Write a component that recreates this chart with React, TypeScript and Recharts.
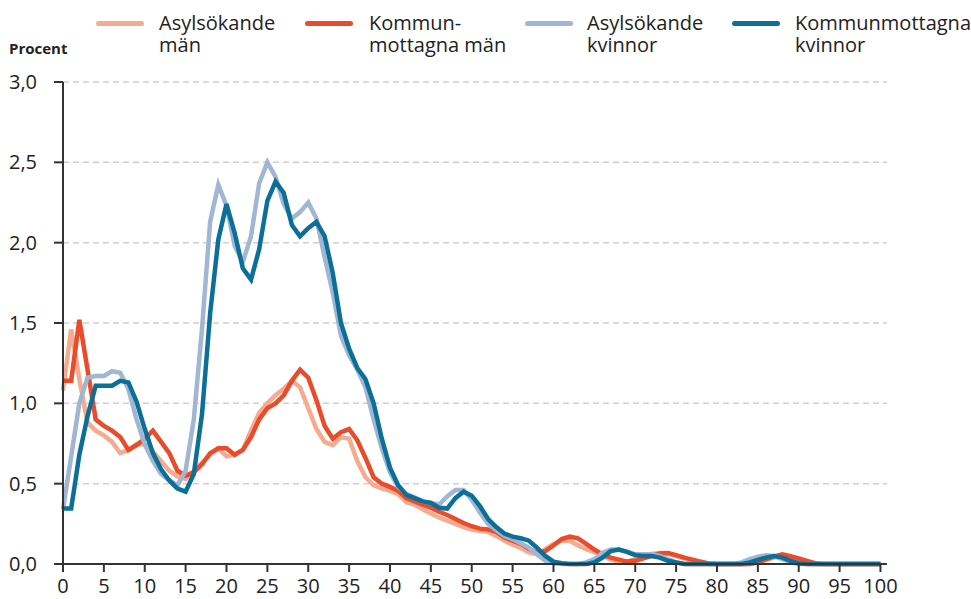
import React from 'react';
import { LineChart, Line, XAxis, YAxis, CartesianGrid } from 'recharts';

// ålder 0-100, andel i procent
const ages = Array.from({ length: 101 }, (_, i) => i);

const asylMan = [
    1.08, 1.46, 1.15, 0.88, 0.83, 0.8, 0.76, 0.69, 0.71, 0.745,
    0.745, 0.7, 0.64, 0.58, 0.545, 0.53, 0.58, 0.63, 0.68, 0.72,
    0.67, 0.68, 0.71, 0.83, 0.94, 1.0, 1.05, 1.09, 1.14, 1.1,
    0.97, 0.84, 0.76, 0.74, 0.79, 0.78, 0.64, 0.54, 0.49, 0.47,
    0.455, 0.435, 0.385, 0.37, 0.34, 0.315, 0.29, 0.27, 0.25, 0.23,
    0.215, 0.207, 0.2, 0.175, 0.145, 0.12, 0.1, 0.073, 0.062, 0.093,
    0.124, 0.145, 0.145, 0.115, 0.093, 0.073, 0.052, 0.027, 0.015, 0.015,
    0.03, 0.048, 0.062, 0.068, 0.065, 0.05, 0.035, 0.02, 0.01, 0,
    0, 0, 0, 0, 0, 0.01, 0.025, 0.04, 0.05, 0.04,
    0.03, 0.015, 0, 0, 0, 0, 0, 0, 0, 0,
    0,
];

const kommunMan = [
    1.14, 1.14, 1.52, 1.21, 0.9, 0.86, 0.83, 0.79, 0.71, 0.74,
    0.78, 0.83, 0.76, 0.69, 0.58, 0.55, 0.57, 0.62, 0.69, 0.72,
    0.72, 0.68, 0.71, 0.79, 0.9, 0.97, 1.0, 1.05, 1.14, 1.21,
    1.16, 1.02, 0.86, 0.78, 0.82, 0.84, 0.77, 0.66, 0.54, 0.5,
    0.48, 0.455, 0.41, 0.39, 0.37, 0.35, 0.325, 0.305, 0.28, 0.255,
    0.235, 0.22, 0.215, 0.2, 0.165, 0.145, 0.125, 0.095, 0.07, 0.08,
    0.115, 0.155, 0.17, 0.16, 0.125, 0.09, 0.06, 0.04, 0.027, 0.015,
    0.02, 0.035, 0.05, 0.065, 0.068, 0.055, 0.04, 0.027, 0.015, 0.003,
    0, 0, 0, 0, 0, 0.01, 0.03, 0.048, 0.06, 0.048,
    0.035, 0.02, 0.005, 0, 0, 0, 0, 0, 0, 0,
    0,
];

const asylKvinnor = [
    0.34, 0.67, 1.0, 1.16, 1.17, 1.17, 1.2, 1.19, 1.09, 0.9,
    0.745, 0.64, 0.56, 0.52, 0.49, 0.58, 0.9, 1.46, 2.13, 2.36,
    2.23, 1.98, 1.88, 2.04, 2.37, 2.5, 2.41, 2.24, 2.15, 2.19,
    2.25, 2.15, 1.91, 1.69, 1.42, 1.3, 1.21, 1.1, 0.9, 0.72,
    0.57, 0.48, 0.435, 0.415, 0.39, 0.38, 0.37, 0.42, 0.46, 0.46,
    0.4, 0.32, 0.25, 0.21, 0.175, 0.155, 0.13, 0.1, 0.06, 0.02,
    0.005, 0, 0, 0, 0.01, 0.03, 0.07, 0.09, 0.09, 0.077,
    0.06, 0.06, 0.06, 0.05, 0.03, 0.01, 0, 0, 0, 0,
    0, 0, 0, 0.01, 0.03, 0.045, 0.055, 0.05, 0.03, 0.01,
    0, 0, 0, 0, 0, 0, 0, 0, 0, 0,
    0,
];

const kommunKvinnor = [
    0.345, 0.345, 0.68, 0.92, 1.11, 1.11, 1.11, 1.14, 1.13, 1.01,
    0.84, 0.69, 0.59, 0.52, 0.47, 0.45, 0.56, 0.93, 1.56, 2.02,
    2.24, 2.06, 1.84, 1.77, 1.96, 2.26, 2.38, 2.31, 2.11, 2.04,
    2.09, 2.13, 2.04, 1.81, 1.5, 1.34, 1.22, 1.15, 1.0, 0.78,
    0.6, 0.49, 0.43, 0.41, 0.39, 0.38, 0.35, 0.345, 0.41, 0.45,
    0.425, 0.36, 0.28, 0.23, 0.19, 0.17, 0.16, 0.145, 0.1, 0.05,
    0.015, 0.005, 0, 0, 0, 0.01, 0.04, 0.08, 0.09, 0.075,
    0.055, 0.05, 0.05, 0.04, 0.02, 0.01, 0, 0, 0, 0,
    0, 0, 0, 0, 0.01, 0.025, 0.04, 0.05, 0.04, 0.02,
    0.005, 0, 0, 0, 0, 0, 0, 0, 0, 0,
    0,
];

const xTicks = [0, 5, 10, 15, 20, 25, 30, 35, 40, 45, 50, 55, 60, 65, 70, 75, 80, 85, 90, 95, 100];
const yTicks = [0, 0.5, 1, 1.5, 2, 2.5, 3];

const series = [
    { key: 'asylMan', label: ['Asylsökande', 'män'], color: '#f5ab8f', swatchX: 96, textX: 159 },
    { key: 'kommunMan', label: ['Kommun-', 'mottagna män'], color: '#e94b2b', swatchX: 305, textX: 369 },
    { key: 'asylKvinnor', label: ['Asylsökande', 'kvinnor'], color: '#a1b6d3', swatchX: 525, textX: 587 },
    { key: 'kommunKvinnor', label: ['Kommunmottagna', 'kvinnor'], color: '#0b6f98', swatchX: 732, textX: 795 },
];

const data = ages.map((age, i) => ({
    age,
    asylMan: asylMan[i],
    kommunMan: kommunMan[i],
    asylKvinnor: asylKvinnor[i],
    kommunKvinnor: kommunKvinnor[i],
}));

const font = "'Open Sans', sans-serif";
const tickStyle = { fontFamily: font, fontSize: 20, fill: '#222' };

const legendText = (left: number, top: number): React.CSSProperties => ({
    position: 'absolute',
    left,
    top,
    height: 22,
    fontFamily: font,
    fontSize: 20,
    lineHeight: '22px',
    color: '#222',
    whiteSpace: 'nowrap',
});

export default function App() {
    return (
        <div style={{ position: 'absolute', left: 0, top: 0, width: 971, height: 599, background: '#fff' }}>
            {/* Legend */}
            {series.map((s) => (
                <React.Fragment key={s.key}>
                    <div
                        style={{
                            position: 'absolute',
                            left: s.swatchX,
                            top: 21,
                            width: 48,
                            height: 5,
                            borderRadius: 3,
                            background: s.color,
                        }}
                    />
                    <div style={legendText(s.textX, 12)}>{s.label[0]}</div>
                    <div style={legendText(s.textX, 34)}>{s.label[1]}</div>
                </React.Fragment>
            ))}
            <div
                style={{
                    position: 'absolute',
                    left: 9,
                    top: 41,
                    fontFamily: font,
                    fontWeight: 700,
                    fontSize: 15,
                    lineHeight: '15px',
                    color: '#222',
                }}
            >
                Procent
            </div>

            <div style={{ position: 'absolute', left: 0, top: 0 }}>
                <LineChart width={971} height={599} data={data} margin={{ top: 82, right: 84, left: 8, bottom: 0 }}>
                    <CartesianGrid vertical={false} stroke="#d0d0d0" strokeWidth={1.5} strokeDasharray="6 4" />
                    <XAxis
                        dataKey="age"
                        type="number"
                        domain={[0, 100.8]}
                        ticks={xTicks}
                        interval={0}
                        height={35}
                        tick={tickStyle}
                        tickSize={8}
                        tickMargin={7}
                        axisLine={{ stroke: '#333', strokeWidth: 2 }}
                        tickLine={{ stroke: '#333', strokeWidth: 2 }}
                    />
                    <YAxis
                        type="number"
                        domain={[0, 3]}
                        ticks={yTicks}
                        interval={0}
                        width={55}
                        tick={tickStyle}
                        tickSize={9}
                        tickMargin={17}
                        tickFormatter={(v: number) => v.toFixed(1).replace('.', ',')}
                        axisLine={{ stroke: '#333', strokeWidth: 2 }}
                        tickLine={{ stroke: '#333', strokeWidth: 2 }}
                    />
                    {series.map((s) => (
                        <Line
                            key={s.key}
                            type="linear"
                            dataKey={s.key}
                            stroke={s.color}
                            strokeWidth={4.5}
                            dot={false}
                            activeDot={false}
                            isAnimationActive={false}
                        />
                    ))}
                </LineChart>
            </div>
        </div>
    );
}
